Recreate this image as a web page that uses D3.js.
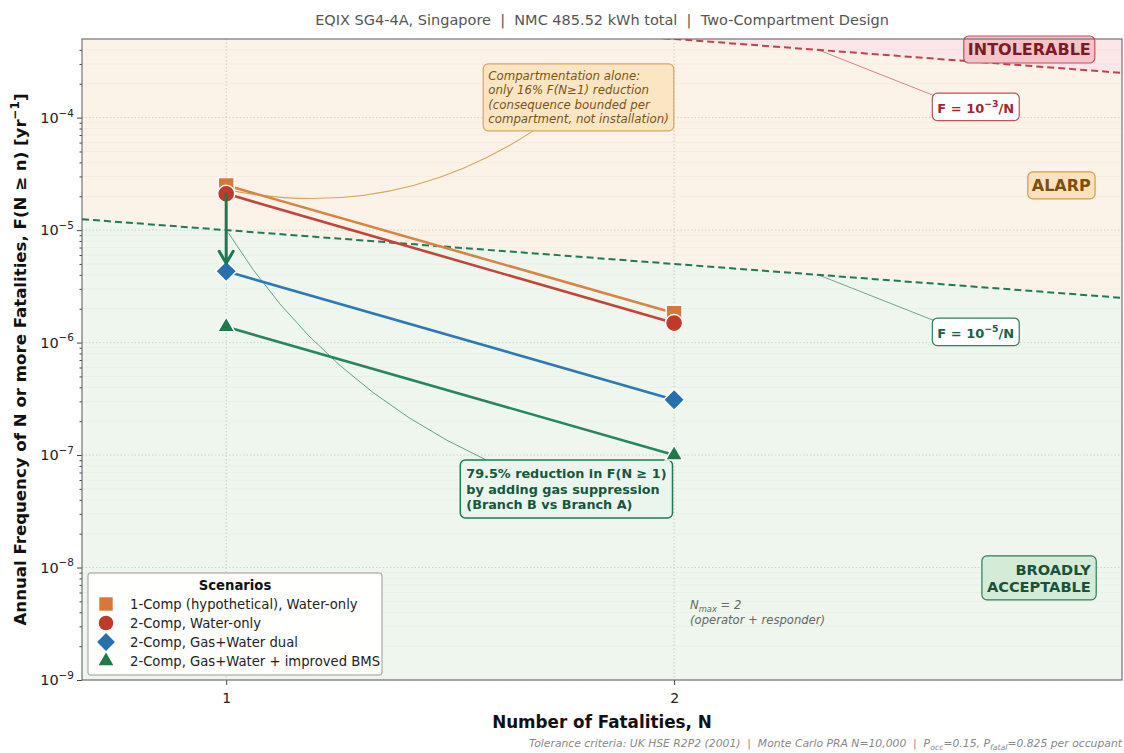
<!DOCTYPE html>
<html>
<head>
<meta charset="utf-8">
<script src="https://cdn.jsdelivr.net/npm/d3@7"></script>
<style>
  body { margin: 0; background: #fff; }
  svg text { font-family: "DejaVu Sans", sans-serif; }
</style>
</head>
<body>
<div id="chart"></div>
<script>
// ---- data ----
const N_VALUES = [1, 2];
const SERIES_NAMES = [
    '1-Comp (hypothetical), Water-only',
    '2-Comp, Water-only',
    '2-Comp, Gas+Water dual',
    '2-Comp, Gas+Water + improved BMS'
];
const F_ONE_COMP_WATER = [2.5e-5, 1.83e-6];
const F_TWO_COMP_WATER = [2.1e-5, 1.49e-6];
const F_TWO_COMP_GAS = [4.3e-6, 3.1e-7];
const F_TWO_COMP_BMS = [1.38e-6, 1.0e-7];
const X_TICKS = [1, 2];
const Y_TICK_EXPONENTS = [-9, -8, -7, -6, -5, -4];
const K_INTOLERABLE = 1e-3;
const K_ACCEPTABLE = 1e-5;
const LABEL_N = 2.5;

const W = 1124, H = 753;
const margin = { top: 39, right: 2, bottom: 73, left: 82 };
const pw = W - margin.left - margin.right;
const ph = H - margin.top - margin.bottom;

const svg = d3.select('#chart').append('svg')
    .attr('width', W)
    .attr('height', H);

const x = d3.scaleLog().domain([0.8, 4]).range([0, pw]);
const y = d3.scaleLog().domain([1e-9, 5e-4]).range([ph, 0]);

const g = svg.append('g')
    .attr('transform', `translate(${margin.left},${margin.top})`);

svg.append('defs').append('clipPath').attr('id', 'plotClip')
    .append('rect').attr('width', pw).attr('height', ph);

// text with super/subscripts
function richText(sel, parts, size) {
    let shift = 0;
    parts.forEach(p => {
        const target = p.sup ? -size * 0.42 : p.sub ? size * 0.25 : 0;
        const ts = sel.append('tspan').text(p.t);
        if (target - shift !== 0) ts.attr('dy', target - shift);
        if (p.sup || p.sub) ts.attr('font-size', size * 0.72);
        shift = target;
    });
}

function labelBox(parent, lines, o) {
    const grp = parent.append('g');
    const n = lines.length;
    const texts = grp.append('g');
    lines.forEach((ln, i) => {
        const t = texts.append('text')
            .attr('x', o.x)
            .attr('y', o.y + (i - (n - 1) / 2) * o.lineHeight + o.size * 0.36)
            .attr('text-anchor', o.anchor || 'start')
            .attr('font-size', o.size)
            .attr('font-weight', o.weight || 'normal')
            .attr('font-style', o.style || 'normal')
            .attr('fill', o.color);
        richText(t, typeof ln === 'string' ? [{ t: ln }] : ln, o.size);
    });
    const bb = texts.node().getBBox();
    const box = { x: bb.x - o.pad, y: bb.y - o.pad, w: bb.width + 2 * o.pad, h: bb.height + 2 * o.pad };
    if (o.fill) {
        grp.insert('rect', ':first-child')
            .attr('x', box.x).attr('y', box.y)
            .attr('width', box.w).attr('height', box.h)
            .attr('rx', 5)
            .attr('fill', o.fill)
            .attr('stroke', o.stroke)
            .attr('stroke-width', o.strokeWidth || 1.2);
    }
    return box;
}

// ---- tolerance zones ----
const zones = g.append('g').attr('clip-path', 'url(#plotClip)');
zones.append('rect').attr('width', pw).attr('height', ph).attr('fill', '#fcf3e8');

zones.append('path')
    .datum(x.domain())
    .attr('fill', '#fbe6e8')
    .attr('d', d3.area().x(d => x(d)).y0(0).y1(d => y(K_INTOLERABLE / d)));

zones.append('path')
    .datum(x.domain())
    .attr('fill', '#eef6ed')
    .attr('d', d3.area().x(d => x(d)).y0(ph).y1(d => y(K_ACCEPTABLE / d)));

// ---- grid ----
const minorVals = [];
Y_TICK_EXPONENTS.forEach(e => {
    for (let m = 2; m <= 9; m++) {
        const v = m * Math.pow(10, e);
        if (v > y.domain()[0] && v < y.domain()[1]) minorVals.push(v);
    }
});
const majorVals = Y_TICK_EXPONENTS.map(e => Math.pow(10, e));

const grid = g.append('g');
grid.selectAll('.minor')
    .data(minorVals)
    .enter().append('line')
    .attr('x1', 0).attr('x2', pw)
    .attr('y1', d => y(d)).attr('y2', d => y(d))
    .attr('stroke', '#000').attr('stroke-opacity', 0.04).attr('stroke-width', 0.8);

grid.selectAll('.major')
    .data(majorVals)
    .enter().append('line')
    .attr('x1', 0).attr('x2', pw)
    .attr('y1', d => y(d)).attr('y2', d => y(d))
    .attr('stroke', '#bbb').attr('stroke-opacity', 0.6)
    .attr('stroke-dasharray', '1.5,2');

grid.selectAll('.vgrid')
    .data(X_TICKS)
    .enter().append('line')
    .attr('x1', d => x(d)).attr('x2', d => x(d))
    .attr('y1', 0).attr('y2', ph)
    .attr('stroke', '#bbb').attr('stroke-opacity', 0.7)
    .attr('stroke-dasharray', '1.5,2');

// ---- criterion lines ----
const crit = g.append('g').attr('clip-path', 'url(#plotClip)');
const critLine = k => d3.line().x(d => x(d)).y(d => y(k / d));
crit.append('path').datum(x.domain())
    .attr('fill', 'none').attr('stroke', '#c0424a').attr('stroke-width', 2)
    .attr('stroke-dasharray', '7,4').attr('d', critLine(K_INTOLERABLE));
crit.append('path').datum(x.domain())
    .attr('fill', 'none').attr('stroke', '#1f7a55').attr('stroke-width', 2)
    .attr('stroke-dasharray', '7,4').attr('d', critLine(K_ACCEPTABLE));

// ---- annotation layer (below series) ----
const leaders = g.append('g');
const notes = g.append('g');

// compartmentation note
const compBox = labelBox(notes, [
    'Compartmentation alone:',
    'only 16% F(N≥1) reduction',
    '(consequence bounded per',
    'compartment, not installation)'
], {
    x: x(1.5), y: y(1.52e-4), size: 11.8, lineHeight: 14.3, style: 'italic',
    color: '#7a5512', fill: '#fce5c3', stroke: '#d9a55b', pad: 5
});

// gas suppression note
const gasBox = labelBox(notes, [
    '79.5% reduction in F(N \u2265 1)',
    'by adding gas suppression',
    '(Branch B vs Branch A)'
], {
    x: x(1.45), y: y(5e-8), size: 12.8, lineHeight: 15.5, weight: 'bold',
    color: '#17573d', fill: '#eaf5ee', stroke: '#1f7a55', strokeWidth: 1.5, pad: 6
});

// criterion labels
const intLabel = labelBox(notes, [[{ t: 'F = 10' }, { t: '\u22123', sup: true }, { t: '/N' }]], {
    x: x(3.19), y: y(1.22e-4), size: 13, lineHeight: 15, weight: 'bold', anchor: 'middle',
    color: '#a3262f', fill: '#fff', stroke: '#c0505a', pad: 5
});
const accLabel = labelBox(notes, [[{ t: 'F = 10' }, { t: '\u22125', sup: true }, { t: '/N' }]], {
    x: x(3.19), y: y(1.22e-6), size: 13, lineHeight: 15, weight: 'bold', anchor: 'middle',
    color: '#17604a', fill: '#fff', stroke: '#2e7d5e', pad: 5
});

// zone labels (axes fraction)
labelBox(notes, ['INTOLERABLE'], {
    x: pw * 0.97, y: ph * (1 - 0.984), size: 16, lineHeight: 17, weight: 'bold', anchor: 'end',
    color: '#7d1a22', fill: '#f5c4cb', stroke: '#c0505a', pad: 4
});
labelBox(notes, ['ALARP'], {
    x: pw * 0.97, y: ph * (1 - 0.772), size: 16, lineHeight: 17, weight: 'bold', anchor: 'end',
    color: '#7f4e0c', fill: '#fbe2bf', stroke: '#d49a4a', pad: 4
});
labelBox(notes, ['BROADLY', 'ACCEPTABLE'], {
    x: pw * 0.97, y: ph * (1 - 0.159), size: 14.6, lineHeight: 17, weight: 'bold', anchor: 'end',
    color: '#1a5238', fill: '#d4ebd8', stroke: '#2e7d55', pad: 5
});

// N max note
labelBox(notes, [
    [{ t: 'N' }, { t: 'max', sub: true }, { t: ' = 2' }],
    '(operator + responder)'
], {
    x: x(2.05), y: y(4e-9), size: 11.6, lineHeight: 14.5, style: 'italic',
    color: '#666', pad: 0
});

// leader lines
function arcPath(p0, p1, rad) {
    const mx = (p0[0] + p1[0]) / 2, my = (p0[1] + p1[1]) / 2;
    const dx = p1[0] - p0[0], dy = p1[1] - p0[1];
    const c = [mx + rad * dy, my - rad * dx];
    return `M${p0[0]},${p0[1]} Q${c[0]},${c[1]} ${p1[0]},${p1[1]}`;
}

leaders.append('path')
    .attr('fill', 'none').attr('stroke', '#d9a55b').attr('stroke-width', 1.1)
    .attr('d', arcPath([compBox.x + 50, compBox.y + compBox.h],
        [x(N_VALUES[0]) + 9, y(F_ONE_COMP_WATER[0]) + 6], 0.2));

leaders.append('path')
    .attr('fill', 'none').attr('stroke', '#2e8b6a').attr('stroke-opacity', 0.75).attr('stroke-width', 1)
    .attr('d', arcPath([gasBox.x + 26, gasBox.y],
        [x(N_VALUES[0]) + 2, y(Math.sqrt(F_TWO_COMP_WATER[0] * F_TWO_COMP_GAS[0]))], 0.15));

leaders.append('line')
    .attr('x1', x(LABEL_N)).attr('y1', y(K_INTOLERABLE / LABEL_N))
    .attr('x2', intLabel.x + 3).attr('y2', intLabel.y + 3)
    .attr('stroke', '#c0424a').attr('stroke-opacity', 0.7).attr('stroke-width', 0.9);
leaders.append('line')
    .attr('x1', x(LABEL_N)).attr('y1', y(K_ACCEPTABLE / LABEL_N))
    .attr('x2', accLabel.x + 3).attr('y2', accLabel.y + 3)
    .attr('stroke', '#1f7a55').attr('stroke-opacity', 0.7).attr('stroke-width', 0.9);

// ---- series ----
const series = [
    { name: SERIES_NAMES[0], values: F_ONE_COMP_WATER, color: '#da8443', marker: '#d9773a', shape: 'square' },
    { name: SERIES_NAMES[1], values: F_TWO_COMP_WATER, color: '#c4443a', marker: '#c0392b', shape: 'circle' },
    { name: SERIES_NAMES[2], values: F_TWO_COMP_GAS, color: '#2e78b5', marker: '#2870ad', shape: 'diamond' },
    { name: SERIES_NAMES[3], values: F_TWO_COMP_BMS, color: '#26875a', marker: '#1e7a4a', shape: 'triangle' }
];

const shapes = {
    square: { type: d3.symbolSquare, size: 250, rot: 0 },
    circle: { type: d3.symbolCircle, size: 230, rot: 0 },
    diamond: { type: d3.symbolSquare, size: 220, rot: 45 },
    triangle: { type: d3.symbolTriangle, size: 130, rot: 0 }
};

const lineGen = d3.line()
    .x((d, i) => x(N_VALUES[i]))
    .y(d => y(d));

const seriesG = g.append('g');
series.forEach(s => {
    seriesG.append('path')
        .datum(s.values)
        .attr('fill', 'none')
        .attr('stroke', s.color)
        .attr('stroke-width', 2.6)
        .attr('d', lineGen);
});
series.forEach(s => {
    const sh = shapes[s.shape];
    seriesG.selectAll(null)
        .data(s.values)
        .enter().append('path')
        .attr('transform', (d, i) => `translate(${x(N_VALUES[i])},${y(d)}) rotate(${sh.rot})`)
        .attr('d', d3.symbol().type(sh.type).size(sh.size))
        .attr('fill', s.marker)
        .attr('stroke', '#fff')
        .attr('stroke-width', 1.5);
});

// reduction arrow
const ax = x(N_VALUES[0]);
const ay0 = y(F_TWO_COMP_WATER[0]);
const ay1 = y(F_TWO_COMP_GAS[0]) - 8;
const arrowG = g.append('g')
    .attr('stroke', '#1a7a52').attr('stroke-width', 3).attr('fill', 'none')
    .attr('stroke-linecap', 'round').attr('stroke-linejoin', 'round');
arrowG.append('line').attr('x1', ax).attr('x2', ax).attr('y1', ay0).attr('y2', ay1);
arrowG.append('path').attr('d', `M${ax - 7},${ay1 - 12} L${ax},${ay1} L${ax + 7},${ay1 - 12}`);

// ---- axes ----
const yAxis = g.append('g')
    .call(d3.axisLeft(y).tickValues(majorVals).tickSize(5).tickFormat(''));
yAxis.select('.domain').remove();
yAxis.selectAll('line').attr('stroke', '#444');

const yMinor = g.append('g')
    .call(d3.axisLeft(y).tickValues(minorVals).tickSize(2.5).tickFormat(''));
yMinor.select('.domain').remove();
yMinor.selectAll('line').attr('stroke', '#444');

majorVals.forEach((v, i) => {
    const t = g.append('text')
        .attr('x', -8)
        .attr('y', y(v) + 5)
        .attr('text-anchor', 'end')
        .attr('font-size', 14.5)
        .attr('fill', '#222');
    richText(t, [{ t: '10' }, { t: '\u2212' + Math.abs(Y_TICK_EXPONENTS[i]), sup: true }], 14.5);
});

const xAxis = g.append('g')
    .attr('transform', `translate(0,${ph})`)
    .call(d3.axisBottom(x).tickValues(X_TICKS).tickSize(5).tickFormat(d3.format('d')));
xAxis.select('.domain').remove();
xAxis.selectAll('line').attr('stroke', '#444');
xAxis.selectAll('text')
    .attr('font-size', 14)
    .attr('fill', '#222')
    .attr('dy', '1.05em')
    .style('font-family', '"DejaVu Sans", sans-serif');

g.append('rect')
    .attr('width', pw).attr('height', ph)
    .attr('fill', 'none').attr('stroke', '#666').attr('stroke-width', 1.1);

// ---- legend ----
const lg = g.append('g').attr('transform', `translate(6,${ph - 107})`);
lg.append('rect')
    .attr('width', 294).attr('height', 102)
    .attr('fill', '#fff').attr('fill-opacity', 0.95)
    .attr('stroke', '#999').attr('stroke-width', 1).attr('rx', 2);
lg.append('text')
    .attr('x', 147).attr('y', 17)
    .attr('text-anchor', 'middle')
    .attr('font-size', 13.2).attr('font-weight', 'bold').attr('fill', '#111')
    .text('Scenarios');
series.forEach((s, i) => {
    const sh = shapes[s.shape];
    const cy = 31 + i * 19;
    lg.append('path')
        .attr('transform', `translate(18,${cy}) rotate(${sh.rot})`)
        .attr('d', d3.symbol().type(sh.type).size(sh.size * 0.72))
        .attr('fill', s.marker);
    lg.append('text')
        .attr('x', 42).attr('y', cy + 4.5)
        .attr('font-size', 13.2).attr('fill', '#222')
        .text(s.name);
});

// ---- titles ----
svg.append('text')
    .attr('x', margin.left + pw / 2).attr('y', 25)
    .attr('text-anchor', 'middle')
    .attr('font-size', 14.5).attr('fill', '#555')
    .style('white-space', 'pre')
    .text('EQIX SG4-4A, Singapore  |  NMC 485.52 kWh total  |  Two-Compartment Design');

svg.append('text')
    .attr('x', margin.left + pw / 2).attr('y', 728)
    .attr('text-anchor', 'middle')
    .attr('font-size', 16.8).attr('font-weight', 'bold').attr('fill', '#111')
    .text('Number of Fatalities, N');

const yLab = svg.append('text')
    .attr('transform', `translate(26,${margin.top + ph / 2}) rotate(-90)`)
    .attr('text-anchor', 'middle')
    .attr('font-size', 16.6).attr('font-weight', 'bold').attr('fill', '#111');
richText(yLab, [
    { t: 'Annual Frequency of N or more Fatalities, F(N \u2265 n) [yr' },
    { t: '\u22121', sup: true },
    { t: ']' }
], 16.6);

const foot = svg.append('text')
    .attr('x', 1122).attr('y', 747)
    .attr('text-anchor', 'end')
    .attr('font-size', 10.8).attr('font-style', 'italic').attr('fill', '#888')
    .style('white-space', 'pre');
richText(foot, [
    { t: 'Tolerance criteria: UK HSE R2P2 (2001)  |  Monte Carlo PRA N=10,000  |  P' },
    { t: 'occ', sub: true },
    { t: '=0.15, P' },
    { t: 'fatal', sub: true },
    { t: '=0.825 per occupant' }
], 10.8);
</script>
</body>
</html>
